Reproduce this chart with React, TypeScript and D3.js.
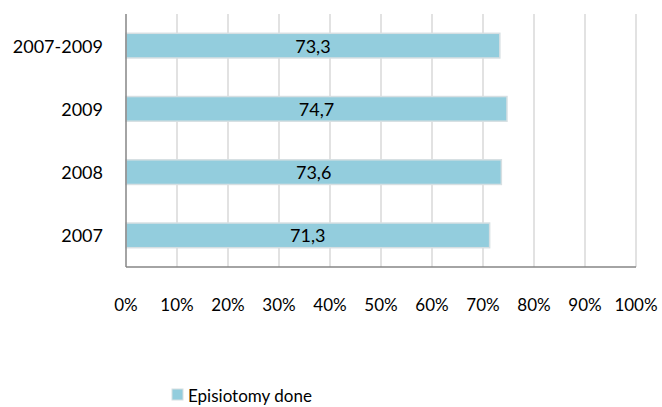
import React, { useEffect, useRef } from "react";
import * as d3 from "d3";

const categories = ["2007-2009", "2009", "2008", "2007"];
const values = [73.3, 74.7, 73.6, 71.3];
const ticks = [0, 10, 20, 30, 40, 50, 60, 70, 80, 90, 100];
const seriesName = "Episiotomy done";

const App: React.FC = () => {
  const svgRef = useRef<SVGSVGElement>(null);

  useEffect(() => {
    if (!svgRef.current) return;
    const svg = d3.select(svgRef.current);
    svg.selectAll("*").remove();

    const font = "Lato, 'Open Sans', sans-serif";
    const left = 126;
    const right = 636;
    const top = 14;
    const bottom = 267;

    const x = d3.scaleLinear().domain([0, 100]).range([left, right]);
    const y = d3
      .scaleBand<string>()
      .domain(categories)
      .range([top, bottom])
      .paddingInner(0.61)
      .paddingOuter(0.305);

    // gridlines
    svg
      .append("g")
      .selectAll("line")
      .data(ticks.slice(1))
      .enter()
      .append("line")
      .attr("x1", (d) => x(d))
      .attr("x2", (d) => x(d))
      .attr("y1", top)
      .attr("y2", bottom)
      .attr("stroke", "#d9d9d9")
      .attr("stroke-width", 1.5);

    // bars
    svg
      .append("g")
      .selectAll("rect")
      .data(values)
      .enter()
      .append("rect")
      .attr("x", x(0))
      .attr("y", (_, i) => y(categories[i])!)
      .attr("width", (d) => x(d) - x(0))
      .attr("height", y.bandwidth())
      .attr("fill", "#93cddd")
      .attr("stroke", "#d6dfe2")
      .attr("stroke-width", 1.5);

    // bar labels
    svg
      .append("g")
      .selectAll("text")
      .data(values)
      .enter()
      .append("text")
      .attr("x", (d) => x(d / 2))
      .attr("y", (_, i) => y(categories[i])! + y.bandwidth() / 2)
      .attr("text-anchor", "middle")
      .attr("dominant-baseline", "central")
      .style("font-family", font)
      .style("font-size", "18px")
      .style("fill", "#000")
      .text((d) => d.toFixed(1).replace(".", ","));

    // axes lines
    svg
      .append("line")
      .attr("x1", left)
      .attr("x2", right)
      .attr("y1", bottom)
      .attr("y2", bottom)
      .attr("stroke", "#868686")
      .attr("stroke-width", 1.5);
    svg
      .append("line")
      .attr("x1", left)
      .attr("x2", left)
      .attr("y1", top)
      .attr("y2", bottom)
      .attr("stroke", "#868686")
      .attr("stroke-width", 1.5);

    // category labels
    svg
      .append("g")
      .selectAll("text")
      .data(categories)
      .enter()
      .append("text")
      .attr("x", 103)
      .attr("y", (d) => y(d)! + y.bandwidth() / 2)
      .attr("text-anchor", "end")
      .attr("dominant-baseline", "central")
      .style("font-family", font)
      .style("font-size", "18px")
      .style("fill", "#000")
      .text((d) => d);

    // x tick labels
    svg
      .append("g")
      .selectAll("text")
      .data(ticks)
      .enter()
      .append("text")
      .attr("x", (d) => x(d))
      .attr("y", 304)
      .attr("text-anchor", "middle")
      .attr("dominant-baseline", "central")
      .style("font-family", font)
      .style("font-size", "17px")
      .style("fill", "#000")
      .text((d) => `${d}%`);

    // legend
    const lg = svg.append("g");
    lg.append("rect")
      .attr("x", 172)
      .attr("y", 389)
      .attr("width", 11)
      .attr("height", 11)
      .attr("fill", "#93cddd")
      .attr("stroke", "#d6dfe2")
      .attr("stroke-width", 1);
    lg.append("text")
      .attr("x", 188)
      .attr("y", 395)
      .attr("dominant-baseline", "central")
      .style("font-family", font)
      .style("font-size", "17px")
      .style("fill", "#000")
      .text(seriesName);
  }, []);

  return (
    <svg
      ref={svgRef}
      width={662}
      height={407}
      style={{ position: "absolute", left: 0, top: 0, background: "#fff" }}
    />
  );
};

export default App;
